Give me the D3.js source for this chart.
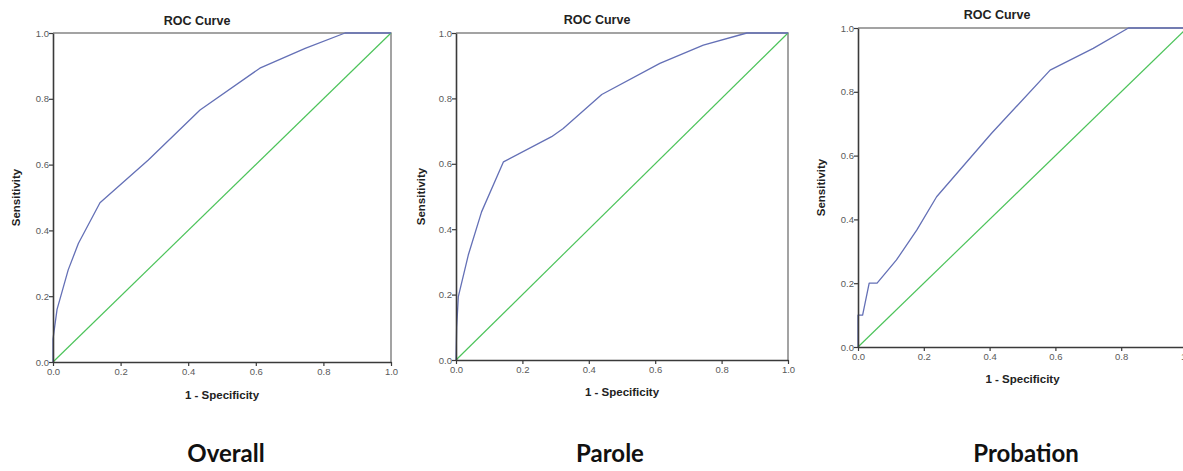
<!DOCTYPE html>
<html>
<head>
<meta charset="utf-8">
<script src="https://cdn.jsdelivr.net/npm/d3@7"></script>
<style>
  html, body { margin: 0; padding: 0; background: #fff; }
  svg { display: block; }
</style>
</head>
<body>
<svg id="chart" width="1183" height="471"></svg>
<script>
// ROC curves: 1 - specificity (x) vs sensitivity (y)
const tickValues = [0, 0.2, 0.4, 0.6, 0.8, 1.0];
const tickLabels = ["0.0", "0.2", "0.4", "0.6", "0.8", "1.0"];
const groupNames = ["Overall", "Parole", "Probation"];

const overallFpr  = [0, 0, 0.012, 0.045, 0.075, 0.139, 0.282, 0.435, 0.612, 0.746, 0.864, 1];
const overallTpr  = [0, 0.07, 0.16, 0.28, 0.36, 0.484, 0.614, 0.766, 0.893, 0.953, 1, 1];

const paroleFpr   = [0, 0.002, 0.007, 0.037, 0.077, 0.143, 0.288, 0.323, 0.439, 0.614, 0.745, 0.876, 1];
const paroleTpr   = [0, 0.1, 0.194, 0.321, 0.453, 0.606, 0.683, 0.708, 0.812, 0.907, 0.963, 1, 1];

const probationFpr = [0, 0, 0.014, 0.034, 0.058, 0.117, 0.179, 0.239, 0.406, 0.584, 0.715, 0.822, 1];
const probationTpr = [0, 0.1, 0.1, 0.2, 0.2, 0.273, 0.367, 0.471, 0.67, 0.868, 0.936, 1, 1];

const curves = [
  { fpr: overallFpr, tpr: overallTpr },
  { fpr: paroleFpr, tpr: paroleTpr },
  { fpr: probationFpr, tpr: probationTpr }
];

// panel frames (pixel extents of each plot area)
const panels = [
  { x0: 53,  x1: 391,  y0: 362, y1: 33, titleX: 197, titleY: 22, xLabY: 396, yLabX: 17,  labelX: 226 },
  { x0: 456, x1: 788,  y0: 360, y1: 33, titleX: 597, titleY: 21, xLabY: 393, yLabX: 422, labelX: 610 },
  { x0: 858, x1: 1187, y0: 347, y1: 28, titleX: 997, titleY: 16, xLabY: 380, yLabX: 822, labelX: 1026 }
];

const svg = d3.select("#chart");
const rocColor = "#6470b6";
const refColor = "#4cc35a";
const sans = "Liberation Sans, Arial, sans-serif";

panels.forEach((p, i) => {
  const x = d3.scaleLinear().domain([0, 1]).range([p.x0, p.x1]);
  const y = d3.scaleLinear().domain([0, 1]).range([p.y0, p.y1]);
  const g = svg.append("g");

  // top and right frame
  g.append("path")
    .attr("d", `M${p.x0},${p.y1}H${p.x1}V${p.y0}`)
    .attr("fill", "none").attr("stroke", "#858585").attr("stroke-width", 1.5);

  // reference diagonal
  const line = d3.line().x(d => x(d[0])).y(d => y(d[1]));
  g.append("path")
    .datum([[0, 0], [1, 1]])
    .attr("d", line)
    .attr("fill", "none").attr("stroke", refColor).attr("stroke-width", 1.2);

  // ROC curve
  const c = curves[i];
  const pts = c.fpr.map((v, k) => [v, c.tpr[k]]);
  g.append("path")
    .datum(pts)
    .attr("d", line)
    .attr("fill", "none").attr("stroke", rocColor).attr("stroke-width", 1.3)
    .attr("stroke-linejoin", "round");

  // axes
  const fmt = d => tickLabels[tickValues.indexOf(d)];
  const xAxis = g.append("g")
    .attr("transform", `translate(0,${p.y0})`)
    .call(d3.axisBottom(x).tickValues(tickValues).tickFormat(fmt).tickSize(4).tickSizeOuter(0));
  const yAxis = g.append("g")
    .attr("transform", `translate(${p.x0},0)`)
    .call(d3.axisLeft(y).tickValues(tickValues).tickFormat(fmt).tickSize(4).tickSizeOuter(0));

  [xAxis, yAxis].forEach(a => {
    a.select(".domain").attr("stroke", "#3a3a3a").attr("stroke-width", 1.6);
    a.selectAll(".tick line").attr("stroke", "#3a3a3a").attr("stroke-width", 1.2);
    a.selectAll(".tick text")
      .attr("fill", "#5a5a5a")
      .style("font-family", sans)
      .style("font-size", "9.5px");
  });
  xAxis.selectAll(".tick text").attr("y", 6);
  yAxis.selectAll(".tick text").attr("x", -4);

  // title
  g.append("text")
    .attr("x", p.titleX)
    .attr("y", p.titleY)
    .attr("text-anchor", "middle")
    .attr("dominant-baseline", "middle")
    .style("font-family", sans)
    .style("font-weight", "bold")
    .style("font-size", "12.5px")
    .attr("fill", "#222")
    .text("ROC Curve");

  // axis titles
  g.append("text")
    .attr("x", x(0.5))
    .attr("y", p.xLabY)
    .attr("text-anchor", "middle")
    .attr("dominant-baseline", "middle")
    .style("font-family", sans)
    .style("font-weight", "bold")
    .style("font-size", "11.5px")
    .attr("fill", "#222")
    .text("1 - Specificity");

  g.append("text")
    .attr("transform", `translate(${p.yLabX},${y(0.5)}) rotate(-90)`)
    .attr("text-anchor", "middle")
    .attr("dominant-baseline", "middle")
    .style("font-family", sans)
    .style("font-weight", "bold")
    .style("font-size", "11.5px")
    .attr("fill", "#222")
    .text("Sensitivity");

  // group label beneath the panel
  svg.append("text")
    .attr("x", p.labelX)
    .attr("y", 456)
    .attr("text-anchor", "middle")
    .attr("dominant-baseline", "middle")
    .style("font-family", "Lato, sans-serif")
    .style("font-weight", "bold")
    .style("font-size", "24px")
    .attr("fill", "#111")
    .text(groupNames[i]);
});
</script>
</body>
</html>
